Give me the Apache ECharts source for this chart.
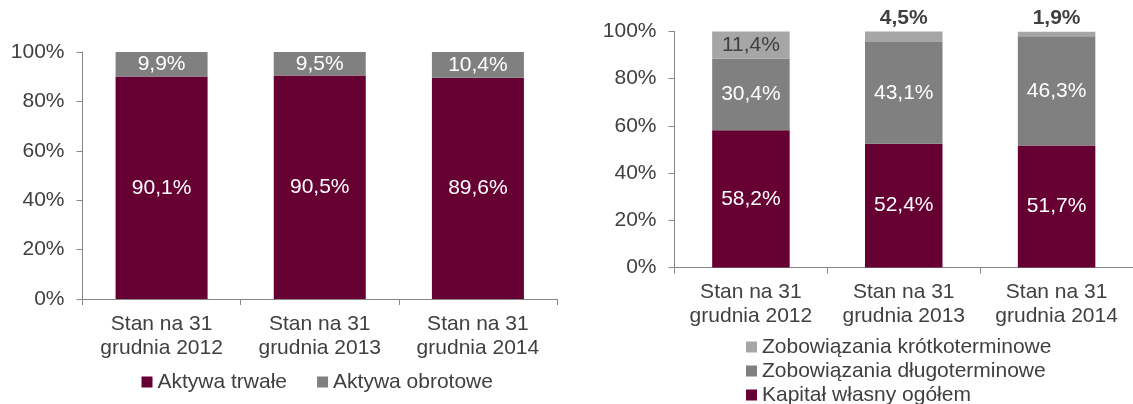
<!DOCTYPE html>
<html>
<head>
<meta charset="utf-8">
<script src="https://cdn.jsdelivr.net/npm/echarts@6/dist/echarts.min.js"></script>
<style>
  html, body { margin: 0; padding: 0; background: #ffffff; }
  #chart { width: 1133px; height: 404px; }
</style>
</head>
<body>
<div id="chart"></div>
<script>
// Categories (balance sheet dates)
const categories = ['Stan na 31\ngrudnia 2012', 'Stan na 31\ngrudnia 2013', 'Stan na 31\ngrudnia 2014'];

// Assets structure, % of total assets
const aktywaTrwale = [90.1, 90.5, 89.6];
const aktywaObrotowe = [9.9, 9.5, 10.4];

// Liabilities and equity structure, % of total
const kapitalWlasny = [58.2, 52.4, 51.7];
const zobDlugoterminowe = [30.4, 43.1, 46.3];
const zobKrotkoterminowe = [11.4, 4.5, 1.9];

// Legend order of the right-hand chart (top to bottom)
const rightLegendNames = ['Zobowiązania krótkoterminowe', 'Zobowiązania długoterminowe', 'Kapitał własny ogółem'];

// Y axis ticks
const yMin = 0, yMax = 100, yStep = 20;

const MAROON = '#660033';
const GRAY = '#808080';
const LIGHT = '#A6A6A6';
const TEXT = '#404040';
const AXIS = '#868686';
const FONT = '"Liberation Sans", Arial, sans-serif';
const FS = 21;

const fmt = v => v.toFixed(1).replace('.', ',') + '%';

function xAxisFor(gridIndex) {
  return {
    type: 'category', gridIndex, data: categories,
    axisLine: { lineStyle: { color: AXIS, width: 1 } },
    axisTick: { show: true, length: 6, lineStyle: { color: AXIS } },
    axisLabel: { color: TEXT, fontFamily: FONT, fontSize: FS, lineHeight: 24, margin: 13, interval: 0 }
  };
}
function yAxisFor(gridIndex) {
  return {
    type: 'value', gridIndex, min: yMin, max: yMax, interval: yStep,
    axisLine: { show: true, lineStyle: { color: AXIS, width: 1 } },
    axisTick: { show: true, length: 6, lineStyle: { color: AXIS } },
    splitLine: { show: false },
    axisLabel: { color: TEXT, fontFamily: FONT, fontSize: FS, margin: 18, formatter: '{value}%' }
  };
}

const insideLabel = (color) => ({
  show: true, position: 'inside', color, fontFamily: FONT, fontSize: FS,
  formatter: p => fmt(p.value)
});

// Short-term liabilities: the wide segment carries its label inside, thin ones get a bold label above
const krotkoData = zobKrotkoterminowe.map(v => v >= 8
  ? { value: v, label: insideLabel(TEXT) }
  : { value: v, label: { show: true, position: 'top', distance: 3, color: TEXT, fontWeight: 'bold',
      fontFamily: FONT, fontSize: FS, formatter: p => fmt(p.value) } });

const legendBase = {
  padding: 0, itemWidth: 11, itemHeight: 11, icon: 'rect',
  textStyle: { color: TEXT, fontFamily: FONT, fontSize: FS, lineHeight: 22 }
};

// One single-item legend per row on the right, stacked 24px apart
const rightLegends = rightLegendNames.map((name, i) => Object.assign({}, legendBase, {
  orient: 'vertical', left: 746, top: 336 + i * 24, data: [name]
}));

const chart = echarts.init(document.getElementById('chart'), null, { renderer: 'canvas' });
chart.setOption({
  animation: false,
  backgroundColor: '#ffffff',
  textStyle: { fontFamily: FONT },
  grid: [
    { left: 82.5, top: 52, width: 474.5, height: 247 },
    { left: 674.5, top: 31.5, width: 472, height: 236 }
  ],
  xAxis: [xAxisFor(0), xAxisFor(1)],
  yAxis: [yAxisFor(0), yAxisFor(1)],
  legend: [
    Object.assign({}, legendBase, {
      orient: 'horizontal', left: 141.5, top: 371, itemGap: 30,
      data: ['Aktywa trwałe', 'Aktywa obrotowe']
    })
  ].concat(rightLegends),
  series: [
    { name: 'Aktywa trwałe', type: 'bar', stack: 'a', xAxisIndex: 0, yAxisIndex: 0, barWidth: 92,
      itemStyle: { color: MAROON }, label: insideLabel('#ffffff'), data: aktywaTrwale },
    { name: 'Aktywa obrotowe', type: 'bar', stack: 'a', xAxisIndex: 0, yAxisIndex: 0, barWidth: 92,
      itemStyle: { color: GRAY }, label: insideLabel('#ffffff'), data: aktywaObrotowe },
    { name: 'Kapitał własny ogółem', type: 'bar', stack: 'p', xAxisIndex: 1, yAxisIndex: 1, barWidth: 77.5,
      itemStyle: { color: MAROON }, label: insideLabel('#ffffff'), data: kapitalWlasny },
    { name: 'Zobowiązania długoterminowe', type: 'bar', stack: 'p', xAxisIndex: 1, yAxisIndex: 1, barWidth: 77.5,
      itemStyle: { color: GRAY }, label: insideLabel('#ffffff'), data: zobDlugoterminowe },
    { name: 'Zobowiązania krótkoterminowe', type: 'bar', stack: 'p', xAxisIndex: 1, yAxisIndex: 1, barWidth: 77.5,
      itemStyle: { color: LIGHT }, data: krotkoData }
  ]
});
</script>
</body>
</html>
